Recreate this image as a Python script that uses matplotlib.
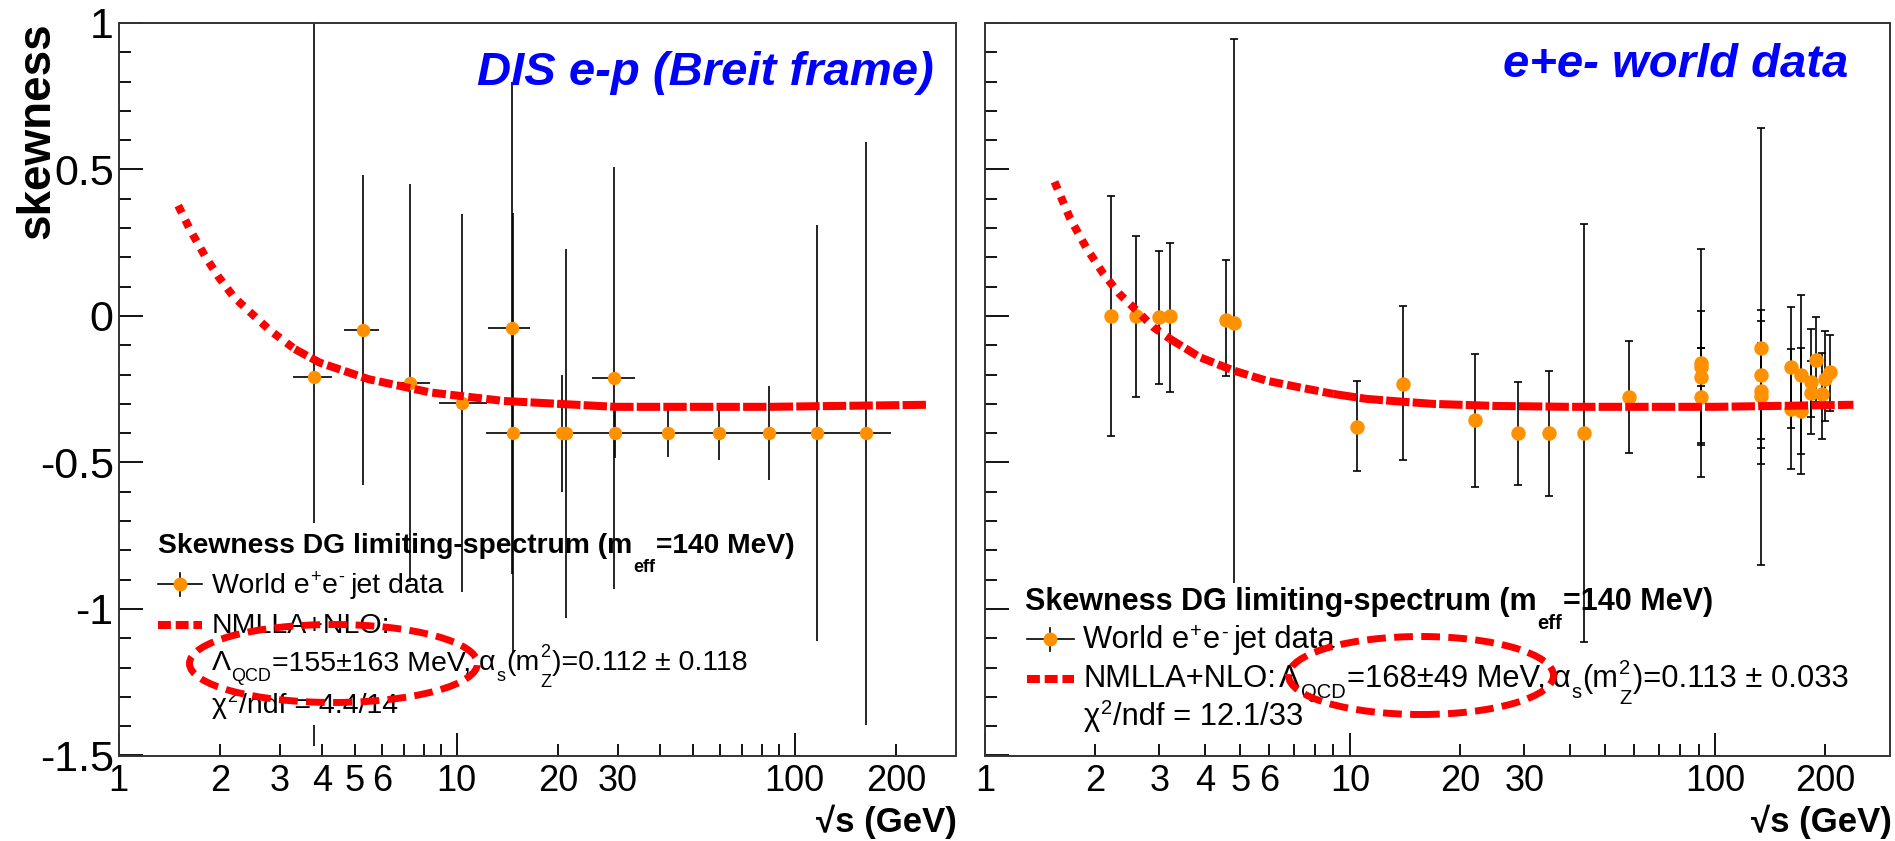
import numpy as np
import matplotlib
matplotlib.use('Agg')
import matplotlib.pyplot as plt
from matplotlib.patches import Ellipse, Rectangle
from matplotlib.lines import Line2D
from matplotlib.ticker import FixedLocator, FuncFormatter, MultipleLocator

# ---------------- data : left panel (DIS e-p, Breit frame) ----------------
dis_x = [3.77, 5.28, 7.27, 10.4, 14.6, 29.2,
         14.7, 20.5, 21.1, 29.3, 42.3, 59.9, 84.1, 116.7, 162.0]
dis_y = [-0.207, -0.048, -0.229, -0.296, -0.042, -0.212,
         -0.40, -0.40, -0.40, -0.40, -0.40, -0.40, -0.40, -0.40, -0.40]
dis_yerr = [1.26, 0.53, 0.68, 0.645, 0.84, 0.72,
            0.75, 0.20, 0.63, 0.084, 0.08, 0.09, 0.16, 0.71, 0.995]
dis_xlo = [3.27, 4.64, 6.68, 8.89, 12.4, 25.2,
           12.2, 17.4, 20.8, 24.8, 35.1, 50.3, 71.0, 99.1, 137.5]
dis_xhi = [4.29, 5.89, 8.35, 12.25, 16.5, 33.7,
           17.4, 20.8, 24.8, 35.1, 50.3, 71.0, 99.1, 137.5, 193.0]
dis_fit_x = [1.50, 1.63, 1.81, 1.97, 2.19, 2.48, 2.81, 3.32, 3.93, 5.50, 8.36, 13.8, 29.4, 83.9, 247.0]
dis_fit_y = [0.377, 0.292, 0.200, 0.135, 0.065, 0.007, -0.050, -0.113, -0.159, -0.216, -0.261, -0.290, -0.310, -0.310, -0.303]

# ---------------- data : right panel (e+e- world data) ----------------
ee_x = [2.21, 2.59, 2.99, 3.21, 4.58, 4.82, 10.47, 14.0, 22.0, 28.8, 35.0, 43.8, 58.0,
        91.2, 91.2, 91.2, 91.2, 133, 133, 133, 133, 161, 161, 172, 172, 183, 183, 189, 196, 200, 206]
ee_y = [0.0, 0.0, -0.002, 0.0, -0.012, -0.023, -0.378, -0.232, -0.355, -0.40, -0.40, -0.40, -0.278,
        -0.160, -0.209, -0.175, -0.275, -0.11, -0.20, -0.255, -0.272, -0.175, -0.316, -0.20, -0.323,
        -0.226, -0.264, -0.15, -0.266, -0.215, -0.192]
ee_ehi = [0.41, 0.274, 0.223, 0.248, 0.202, 0.969, 0.155, 0.265, 0.226, 0.174, 0.211, 0.713, 0.191,
          0.39, 0.225, 0.065, 0.165, 0.75, 0.221, 0.239, 0.18, 0.207, 0.205, 0.27, 0.215,
          0.18, 0.11, 0.145, 0.14, 0.165, 0.128]
ee_elo = [0.409, 0.275, 0.23, 0.258, 0.193, 0.893, 0.151, 0.259, 0.227, 0.176, 0.215, 0.714, 0.19,
          0.39, 0.225, 0.065, 0.165, 0.74, 0.22, 0.251, 0.18, 0.207, 0.205, 0.27, 0.215,
          0.177, 0.082, 0.145, 0.154, 0.142, 0.131]
ee_fit_x = [1.55, 1.71, 1.90, 2.11, 2.34, 2.60, 2.89, 3.21, 3.88, 4.79, 5.91, 7.29, 9.0, 11.1, 13.7, 16.9, 25.0, 40.0, 100.0, 239.0]
ee_fit_y = [0.458, 0.333, 0.23, 0.144, 0.074, 0.019, -0.038, -0.078, -0.141, -0.186, -0.221, -0.244, -0.266, -0.283, -0.292, -0.300, -0.307, -0.310, -0.310, -0.303]

x_tick_labels = [1, 2, 3, 4, 5, 6, 10, 20, 30, 100, 200]
y_tick_labels = [-1.5, -1, -0.5, 0, 0.5, 1]

# ---------------- style ----------------
W, H, DPI = 1895, 841, 100
FONT = ['Liberation Sans', 'DejaVu Sans']
plt.rcParams['font.family'] = FONT
ORANGE = '#FF9100'
RED = '#FF0000'
BLUE = '#0000FF'
FRAME = '#333333'

fig = plt.figure(figsize=(W / DPI, H / DPI), dpi=DPI)
fig.patch.set_facecolor('white')

BOX_L = (118.7, 23.0, 956.0, 755.5)
BOX_R = (985.0, 23.0, 1889.5, 755.5)


def fx(x):
    return x / W


def fy(y):
    return 1 - y / H


def make_axes(box, ylabels):
    l, t, r, b = box
    ax = fig.add_axes([l / W, 1 - b / H, (r - l) / W, (b - t) / H])
    ax.set_xscale('log')
    ax.set_xlim(1, 300)
    ax.set_ylim(-1.5, 1)
    majors = [1, 10, 100]
    minors = [v * d for d in (1, 10, 100) for v in range(2, 10) if v * d < 300]
    ax.xaxis.set_major_locator(FixedLocator(majors))
    ax.xaxis.set_minor_locator(FixedLocator(minors))

    def xfmt(v, pos):
        for lab in x_tick_labels:
            if abs(v - lab) < 1e-6 * lab:
                return f'{lab:g}'
        return ''
    ax.xaxis.set_major_formatter(FuncFormatter(xfmt))
    ax.xaxis.set_minor_formatter(FuncFormatter(xfmt))
    ax.yaxis.set_major_locator(FixedLocator(y_tick_labels))
    ax.yaxis.set_minor_locator(MultipleLocator(0.1))
    ax.yaxis.set_major_formatter(FuncFormatter(lambda v, p: f'{v:g}'))
    ax.tick_params(axis='x', which='both', direction='in', labelsize=26, pad=6,
                   width=1.3, color='black')
    ax.tick_params(axis='x', which='major', length=16.5)
    ax.tick_params(axis='x', which='minor', length=8.6)
    ax.tick_params(axis='y', which='both', direction='in', labelsize=31, pad=3.6,
                   width=1.3, color='black', labelleft=ylabels)
    ax.tick_params(axis='y', which='major', length=17.5)
    ax.tick_params(axis='y', which='minor', length=8.8)
    for sp in ax.spines.values():
        sp.set_linewidth(1.4)
        sp.set_color(FRAME)
    return ax


def px2ax(box, x, y):
    l, t, r, b = box
    return (x - l) / (r - l), (b - y) / (b - t)


def draw_fit(ax, xs, ys):
    xs = np.asarray(xs)
    ys = np.asarray(ys)
    i1 = int(np.argmax(xs >= 3.2))
    i2 = int(np.argmax(xs >= 9.0))
    segs = [(slice(0, i1 + 1), (0, (1.0, 1.0))),
            (slice(i1, i2 + 1), (0, (1.7, 0.55))),
            (slice(i2, None), (0, (2.9, 0.4)))]
    for sl, ls in segs:
        ax.plot(xs[sl], ys[sl], color=RED, lw=5.8, linestyle=ls,
                solid_capstyle='butt', dash_capstyle='butt', zorder=3)


axL = make_axes(BOX_L, True)
axR = make_axes(BOX_R, False)

# ---- left panel data ----
behind_left = [0]
idx_front = [i for i in range(len(dis_x)) if i not in behind_left]
for idxs, z in ((behind_left, 1.2), (idx_front, 2.5)):
    xs = np.array([dis_x[i] for i in idxs])
    ys = np.array([dis_y[i] for i in idxs])
    xerr = np.array([[dis_x[i] - dis_xlo[i] for i in idxs], [dis_xhi[i] - dis_x[i] for i in idxs]])
    yerr = np.array([dis_yerr[i] for i in idxs])
    axL.errorbar(xs, ys, xerr=xerr, yerr=yerr, fmt='o', ms=8.6, color=ORANGE, mec=ORANGE,
                 ecolor='black', elinewidth=1.2, capsize=0, zorder=z)
# legend background (white, hides earlier drawn bar part)
lx0, ly0 = px2ax(BOX_L, 125, 725)
lx1, ly1 = px2ax(BOX_L, 800, 523)
axL.add_patch(Rectangle((lx0, ly0), lx1 - lx0, ly1 - ly0, transform=axL.transAxes,
                        facecolor='white', edgecolor='none', zorder=1.5))
draw_fit(axL, dis_fit_x, dis_fit_y)

# ---- right panel data ----
behind_right = [5]
idx_front = [i for i in range(len(ee_x)) if i not in behind_right]
for idxs, z in ((behind_right, 1.2), (idx_front, 2.5)):
    xs = np.array([ee_x[i] for i in idxs])
    ys = np.array([ee_y[i] for i in idxs])
    yerr = np.array([[ee_elo[i] for i in idxs], [ee_ehi[i] for i in idxs]])
    axR.errorbar(xs, ys, yerr=yerr, fmt='o', ms=9.4, color=ORANGE, mec=ORANGE,
                 ecolor='black', elinewidth=1.2, capsize=2.9, capthick=1.2, zorder=z)
rx0, ry0 = px2ax(BOX_R, 1005, 735)
rx1, ry1 = px2ax(BOX_R, 1870, 583)
axR.add_patch(Rectangle((rx0, ry0), rx1 - rx0, ry1 - ry0, transform=axR.transAxes,
                        facecolor='white', edgecolor='none', zorder=1.5))
draw_fit(axR, ee_fit_x, ee_fit_y)

# ---------------- texts ----------------
fig.text(fx(37), fy(22), 'skewness', rotation=90, ha='center', va='top',
         fontsize=33, fontweight='bold')
fig.text(fx(957), fy(805), '\u221as (GeV)', ha='right', va='top', fontsize=25, fontweight='bold')
fig.text(fx(1892), fy(805), '\u221as (GeV)', ha='right', va='top', fontsize=25, fontweight='bold')
fig.text(fx(934), fy(85), 'DIS e-p (Breit frame)', ha='right', va='baseline', fontsize=34,
         fontweight='bold', style='italic', color=BLUE)
fig.text(fx(1848), fy(77), 'e+e- world data', ha='right', va='baseline', fontsize=34,
         fontweight='bold', style='italic', color=BLUE)

renderer = fig.canvas.get_renderer()


def rich(x_px, y_px, parts):
    cur = x_px
    for part in parts:
        if isinstance(part, (int, float)):
            cur += part
            continue
        if part[0] == 'STACK':
            wmax = 0
            for s, sz, wt, dy in part[1]:
                t = fig.text(fx(cur), fy(y_px + dy), s, fontsize=sz, fontweight=wt,
                             ha='left', va='baseline', zorder=5)
                wmax = max(wmax, t.get_window_extent(renderer).width)
            cur += wmax + 1
            continue
        s, sz, wt, dy = part
        t = fig.text(fx(cur), fy(y_px + dy), s, fontsize=sz, fontweight=wt,
                     ha='left', va='baseline', zorder=5)
        cur += t.get_window_extent(renderer).width + 1
    return cur


def legend_block(x_sym0, x_sym1, x_text, ys, title_x, params, chi, sz, bsz, subsz, merged):
    y_title, y1, y2, y3, y4 = ys
    rich(title_x, y_title, [('Skewness DG limiting-spectrum (m', bsz, 'bold', 0),
                            ('eff', subsz, 'bold', 19),
                            ('=140 MeV)', bsz, 'bold', 0)])
    # data symbol
    xc = (x_sym0 + x_sym1) / 2
    yc = y1 - 9
    fig.add_artist(Line2D([fx(x_sym0), fx(x_sym1)], [fy(yc), fy(yc)], color='black', lw=1.2))
    fig.add_artist(Line2D([fx(xc), fx(xc)], [fy(yc - 11.5), fy(yc + 11.5)], color='black', lw=1.2))
    fig.add_artist(Line2D([fx(xc)], [fy(yc)], marker='o', ms=9, color=ORANGE, mec=ORANGE, lw=0))
    rich(x_text, y1, [('World e', sz, 'normal', 0), ('+', subsz, 'normal', -11),
                      ('e', sz, 'normal', 0), ('-', subsz, 'normal', -11), 5,
                      ('jet data', sz, 'normal', 0)])
    # fit symbol
    fig.add_artist(Line2D([fx(x_sym0), fx(x_sym1)], [fy(y2 - 8), fy(y2 - 8)], color=RED, lw=5.8,
                          linestyle=(0, (1.6, 0.6)), dash_capstyle='butt'))
    lam, mev, alpha = params
    par_parts = [('\u039b', sz, 'normal', 0), ('QCD', subsz, 'normal', 11),
                 (f'={lam} MeV,', sz, 'normal', 0), 6,
                 ('\u03b1', sz, 'normal', 0), ('s', subsz, 'normal', 11),
                 ('(m', sz, 'normal', 0),
                 ('STACK', [('2', subsz, 'normal', -13), ('Z', subsz, 'normal', 17)]),
                 (f')={alpha}', sz, 'normal', 0)]
    if merged:
        rich(x_text, y2, [('NMLLA+NLO:', sz, 'normal', 0), 2] + par_parts)
        rich(x_text, y3, [('\u03c7', sz, 'normal', 0), ('2', subsz, 'normal', -11),
                          (f'/ndf = {chi}', sz, 'normal', 0)])
    else:
        rich(x_text, y2, [('NMLLA+NLO:', sz, 'normal', 0)])
        rich(x_text, y3, par_parts)
        rich(x_text, y4, [('\u03c7', sz, 'normal', 0), ('2', subsz, 'normal', -11),
                          (f'/ndf = {chi}', sz, 'normal', 0)])


legend_block(158, 202, 211.6, (553, 593, 633, 670, 713), 158,
             ('155\u00b1163', 'MeV', '0.112 \u00b1 0.118'), '4.4/14', 20.5, 20.3, 13, False)
legend_block(1026.7, 1074, 1083.3, (610, 648.3, 687.3, 725, None), 1025,
             ('168\u00b149', 'MeV', '0.113 \u00b1 0.033'), '12.1/33', 22.2, 22, 14.5, True)

# dashed ellipses highlighting Lambda_QCD
for (cx, cy, w, h) in ((333.5, 663.5, 288, 78), (1421, 675.5, 265, 78)):
    fig.add_artist(Ellipse((fx(cx), fy(cy)), w / W, h / H, transform=fig.transFigure,
                           fill=False, edgecolor=RED, lw=5.0, linestyle=(0, (2.7, 1.2)), zorder=10))

fig.savefig('out.png', dpi=DPI, facecolor='white')
